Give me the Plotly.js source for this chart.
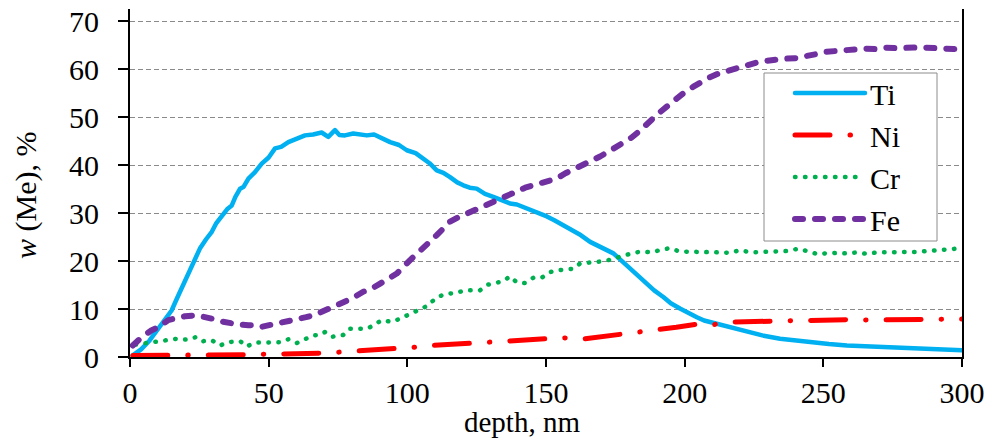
<!DOCTYPE html>
<html>
<head>
<meta charset="utf-8">
<script src="https://cdn.plot.ly/plotly-3.0.1.min.js"></script>
<style>
  html, body { margin: 0; padding: 0; background: #fff; }
  #chart { width: 989px; height: 439px; }
  path.js-line { stroke-linecap: round; stroke-linejoin: round; }
</style>
</head>
<body>
<div id="chart"></div>
<script>
// ---- data ----
const tiX = [1,4,7,10.2,12.5,15,17,19.2,22.2,24,25.2,27.5,29.5,31,33.1,35,36.7,38,39.7,41,42.7,45,47.5,50,52.3,54.5,57.1,60,63.1,66,69.1,71.5,73.9,75.5,77.5,80.5,83,85.4,88,90.2,93.8,97,99.8,103,105.8,108,110.6,113,115.4,118,120.2,122.5,125,128,131,134,137,139.5,141.8,145,147.9,150.3,153,157.5,162,165.9,170,174.3,177,180.3,183,186.3,189,192.3,195,198.3,201,204.4,207,210.4,216,222.4,228,234.4,240,246.4,252,258.5,264,270.5,276,282.5,290,295,300];
const tiY = [0.35,1.6,3.4,5.9,7.6,9.7,12.3,15.0,19.1,21.3,22.6,24.6,26.1,27.8,29.5,30.8,31.6,33.4,35.1,35.5,37.2,38.5,40.3,41.6,43.5,43.8,44.8,45.6,46.2,46.4,46.8,45.9,47.3,46.3,46.2,46.6,46.3,46.2,46.4,45.7,44.8,44.2,43.1,42.5,41.4,40.4,38.9,38.4,37.5,36.4,35.8,35.3,35.1,34.0,33.4,32.6,32.0,31.8,31.3,30.5,29.9,29.3,28.5,27.1,25.6,24.0,22.9,21.6,20.2,18.4,16.9,15.3,13.9,12.5,11.2,10.1,9.2,8.3,7.6,7.1,6.1,5.2,4.5,3.8,3.4,3.0,2.7,2.4,2.25,2.1,1.9,1.75,1.6,1.5,1.4];

const niX = [1,5,10,15,22,30,36,43,50,58,64,72,75,82,88,95,102,109,115,122,129,136,143,150,156,164,170,177,183,191,197,204,211,218,225,232,239,246,252,259,265,272,278,285,291,300];
const niY = [0.3,0.3,0.4,0.5,0.4,0.5,0.5,0.5,0.6,0.6,0.7,0.8,1.0,1.2,1.5,1.75,2.0,2.4,2.6,2.9,2.9,3.3,3.5,3.8,4.0,3.8,4.2,4.7,5.2,5.7,6.2,6.8,6.8,7.3,7.4,7.5,7.5,7.5,7.7,7.8,7.7,7.7,7.8,7.9,7.8,7.9];

const crX = [2,5.4,8.4,11.4,14.1,16.8,19.2,21.6,24,26.4,29.5,32.5,35.5,37.6,39.7,42.1,45.1,47.5,49.9,52.3,54.7,57.1,60.1,63.1,66.1,68.5,70.3,72.7,76.9,79.3,82.3,85.4,87.8,90.8,92.6,94.4,97.4,101,104.6,107,109.4,111.8,114.2,117.2,120.8,123.2,126.2,129.2,131.6,134.6,137,139.4,142.4,145.4,148.4,151.5,154.5,156.9,159.9,162.3,165.3,168.3,171.3,174.9,177.9,181.5,184.5,188.1,191.1,194.7,198.1,201.7,205.3,208.9,212.8,216.4,220,223.6,226.9,230.2,233.8,237.4,241,244.6,248.2,251.8,255.4,258.5,262.1,265.7,269.3,272.9,276.5,280.1,283.7,287.3,290.9,294.5,298.4,300];
const crY = [2.6,2.9,3.2,3.5,3.6,3.8,3.6,3.7,4.2,3.3,3.5,2.4,3.1,3.3,3.3,2.2,3.0,3.0,3.1,3.0,3.1,3.7,2.9,3.7,4.5,4.6,5.2,4.2,4.6,5.9,5.9,5.9,6.6,7.7,7.5,7.3,8.0,9.0,9.9,10.6,11.8,12.7,13.2,13.3,13.9,13.9,13.9,15.1,15.4,15.8,16.8,15.6,15.4,16.5,16.5,17.7,18.1,18.3,18.4,19.5,19.6,19.8,20.0,20.6,21.2,21.7,22.0,21.8,22.3,22.7,22.0,22.0,21.9,22.0,21.8,21.7,22.3,21.8,21.9,21.8,21.9,22.1,22.6,22.1,21.4,21.7,21.6,21.6,21.8,21.5,21.8,21.9,21.9,21.9,21.9,22.1,22.3,22.4,22.6,22.5];

const feX = [1,4,7.8,10.5,13.8,16.5,19.8,24,27,29.5,32,35.5,39,42.7,45,47.5,51,54.7,57.5,60.7,63.5,66.7,70,72.7,76.9,80,84.1,87,90.2,93,96.2,101,103.5,105.8,108,110.6,113,115.4,118,121.4,124,127.4,130,133.4,136.5,139.4,142.5,145.4,149.5,153.9,157,160.5,163.5,166.5,169.5,172.5,175.5,178.5,181,183.3,185.8,188.1,191,194.2,197,200.2,203,206.2,209,212.2,216,219.4,223,226.6,229,232,236.2,240,243.4,247,250.6,254,257.8,261,265,268.5,272.2,276,279.4,283,286.6,290,293.9,297,300];
const feY = [2.4,4.0,5.6,6.3,7.7,8.2,8.5,8.7,8.4,8.0,7.5,7.0,6.8,6.6,6.7,6.3,6.7,7.0,7.6,8.0,8.3,8.8,9.6,10.4,11.6,12.2,13.6,14.2,15.3,16.3,17.4,20.2,21.5,22.6,24.0,25.4,26.8,28.2,29.0,29.9,30.7,31.6,32.3,33.0,34.0,34.8,35.3,35.8,36.6,37.2,38.3,39.3,39.9,40.7,41.8,42.8,43.8,44.8,45.8,46.9,48.3,49.7,51.0,52.5,53.9,55.3,56.3,57.4,58.3,59.1,59.8,60.3,60.9,61.5,61.7,62.0,62.2,62.3,62.6,63.1,63.6,63.8,64.0,64.1,64.3,64.2,64.5,64.4,64.6,64.5,64.5,64.3,64.3,64.2,64.4];

const seriesNames = ['Ti', 'Ni', 'Cr', 'Fe'];
const xTickVals = [0, 50, 100, 150, 200, 250, 300];
const yTickVals = [0, 10, 20, 30, 40, 50, 60, 70];
const xTitle = 'depth, nm';
const yTitle = '<i>w</i> (Me), %';

// ---- chart ----
const FONT = 'Liberation Serif';
const PX = v => (v - 130) / 832;      // pixel -> paper x
const PY = v => (357 - v) / 348;      // pixel -> paper y

const traces = [
  { x: tiX, y: tiY, name: seriesNames[0], mode: 'lines',
    line: { color: '#00B0F0', width: 4.5, dash: 'solid' } },
  { x: niX, y: niY, name: seriesNames[1], mode: 'lines',
    line: { color: '#FF0000', width: 5, dash: '35px,20px,0.5px,20px' } },
  { x: crX, y: crY, name: seriesNames[2], mode: 'lines',
    line: { color: '#00B050', width: 4.5, dash: '0.5px,9.5px' } },
  { x: feX, y: feY, name: seriesNames[3], mode: 'lines',
    line: { color: '#7030A0', width: 6, dash: '8px,12px' } }
];

// y tick labels placed on the y scale, further from the axis than Plotly's default
const yTickLabels = yTickVals.map(v => ({
  text: String(v), xref: 'paper', yref: 'y', x: PX(101), y: v,
  xanchor: 'right', yanchor: 'middle', showarrow: false,
  font: { family: FONT, size: 30, color: '#000' }
}));

const layout = {
  width: 989, height: 439,
  margin: { l: 130, r: 27, t: 9, b: 82, pad: 0 },
  paper_bgcolor: '#ffffff', plot_bgcolor: '#ffffff',
  font: { family: FONT, size: 30, color: '#000' },
  showlegend: true,
  legend: {
    x: PX(790), y: PY(67), xanchor: 'left', yanchor: 'top',
    bgcolor: 'rgba(0,0,0,0)', borderwidth: 0,
    font: { family: FONT, size: 30, color: '#000' },
    itemwidth: 70, tracegroupgap: 0
  },
  shapes: [
    { type: 'rect', xref: 'paper', yref: 'paper', layer: 'above',
      x0: PX(764), x1: PX(937), y0: PY(241), y1: PY(73),
      fillcolor: '#ffffff', line: { color: '#8c8c8c', width: 1 } }
  ],
  xaxis: {
    range: [0, 300], tickvals: xTickVals, ticktext: xTickVals.map(String),
    showgrid: false, zeroline: false,
    showline: true, linecolor: '#000', linewidth: 1.5,
    ticks: 'outside', ticklen: 8, tickcolor: '#000', tickwidth: 1.5,
    tickfont: { family: FONT, size: 30, color: '#000' },
    fixedrange: true
  },
  yaxis: {
    range: [0, 72.55], tickvals: yTickVals, showticklabels: false,
    showgrid: true, gridcolor: '#8a8a8a', gridwidth: 1, griddash: '5px,3px',
    zeroline: false,
    showline: true, linecolor: '#000', linewidth: 1.5, mirror: true,
    ticks: 'outside', ticklen: 10, tickcolor: '#000', tickwidth: 1.5,
    fixedrange: true
  },
  annotations: yTickLabels.concat([
    { text: xTitle, xref: 'paper', yref: 'paper',
      x: PX(522), y: PY(422), xanchor: 'center', yanchor: 'middle',
      showarrow: false, font: { family: FONT, size: 29, color: '#000' } },
    { text: yTitle, xref: 'paper', yref: 'paper', textangle: -90,
      x: PX(26), y: PY(196), xanchor: 'center', yanchor: 'middle',
      showarrow: false, font: { family: FONT, size: 30, color: '#000' } }
  ])
};

Plotly.newPlot('chart', traces, layout, { displayModeBar: false });
</script>
</body>
</html>
